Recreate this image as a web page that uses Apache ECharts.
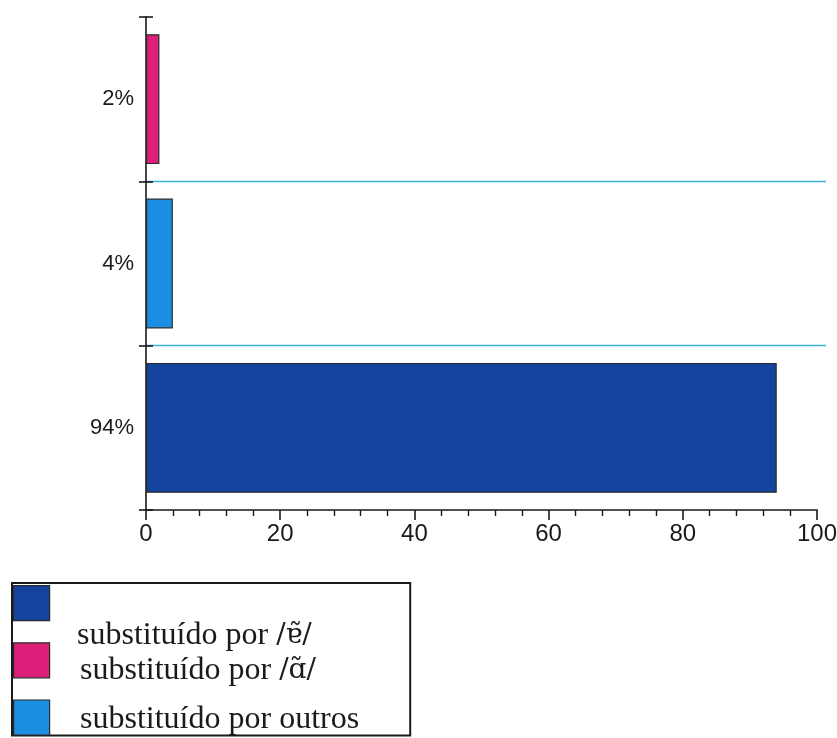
<!DOCTYPE html>
<html>
<head>
<meta charset="utf-8">
<script src="https://cdn.jsdelivr.net/npm/echarts@6/dist/echarts.min.js"></script>
<style>
  html, body { margin: 0; padding: 0; background: #ffffff; }
  #chart { width: 837px; height: 738px; }
</style>
</head>
<body>
<div id="chart"></div>
<script>
// Categories, top to bottom
const categories = ['2%', '4%', '94%'];
// Share of each category (percent)
const shares = [2, 4, 94];
// Legend entries and colours
const seriesNames = ['substituído por /ɐ̃/', 'substituído por /ɑ̃/', 'substituído por outros'];
const seriesColors = ['#15449f', '#dc1f79', '#1a8fe2'];
// Category filled by each series
const seriesCategory = [2, 0, 1];
// Value-axis range
const xMin = 0, xMax = 100, xStep = 20;

const chart = echarts.init(document.getElementById('chart'), null, { renderer: 'canvas' });

const barSeries = seriesNames.map((name, i) => ({
  name: name,
  type: 'bar',
  stack: 'all',
  xAxisIndex: 0,
  yAxisIndex: 0,
  barCategoryGap: '21%',
  itemStyle: { color: seriesColors[i], borderColor: '#2a2a2a', borderWidth: 1.2 },
  emphasis: { disabled: true },
  data: categories.map((c, j) => (j === seriesCategory[i] ? shares[j] : null))
}));

// phonetic symbols go in a font with proper combining-mark support
const withIpa = (name) => name.replace(/(\/[^/]+\/)/, '{ipa|$1}');

const textLegend = (idx, left, top) => ({
  show: true,
  orient: 'vertical',
  left: left,
  top: top,
  padding: 0,
  itemWidth: 0,
  itemHeight: 36,
  itemGap: 0,
  icon: 'rect',
  itemStyle: { opacity: 0, borderWidth: 0 },
  selectedMode: false,
  data: [seriesNames[idx]],
  formatter: withIpa,
  textStyle: {
    fontFamily: 'Liberation Serif',
    fontSize: 32,
    color: '#1a1a1a',
    rich: {
      ipa: { fontFamily: 'DejaVu Serif', fontSize: 28, color: '#1a1a1a' }
    }
  }
});

const option = {
  backgroundColor: '#ffffff',
  animation: false,
  grid: [
    { left: 146, right: 20, top: 17, bottom: 228, outerBoundsMode: 'none' },
    { left: 146, right: 11, top: 17, bottom: 228, outerBoundsMode: 'none' }
  ],
  legend: [
    {
      // swatch column with the frame
      orient: 'vertical',
      left: 12,
      top: 583,
      padding: [2, 360, 0, 1],
      itemWidth: 36,
      itemHeight: 35,
      itemGap: 21,
      icon: 'rect',
      borderColor: '#1a1a1a',
      borderWidth: 2,
      selectedMode: false,
      data: seriesNames,
      formatter: () => '',
      itemStyle: { borderColor: '#2a2a2a', borderWidth: 1.2 },
      textStyle: { fontSize: 1 }
    },
    textLegend(0, 72, 618),
    textLegend(1, 75, 653),
    textLegend(2, 75, 702)
  ],
  xAxis: [
    {
      type: 'value',
      gridIndex: 0,
      min: xMin,
      max: xMax,
      interval: xStep,
      axisLine: { show: true, lineStyle: { color: '#1a1a1a', width: 1.6 } },
      axisTick: { show: true, length: 10, lineStyle: { color: '#1a1a1a', width: 1.6 } },
      minorTick: { show: true, splitNumber: 5, length: 6, lineStyle: { color: '#1a1a1a', width: 1.4 } },
      splitLine: { show: false },
      axisLabel: { margin: 12, fontFamily: 'Liberation Sans', fontSize: 24, color: '#1a1a1a' }
    },
    {
      type: 'value',
      gridIndex: 1,
      min: xMin,
      max: xMax,
      show: false
    }
  ],
  yAxis: [
    {
      type: 'category',
      gridIndex: 0,
      data: categories,
      inverse: true,
      axisLine: { show: true, lineStyle: { color: '#1a1a1a', width: 1.6 } },
      axisTick: { show: true, length: 7, alignWithLabel: false, lineStyle: { color: '#1a1a1a', width: 1.6 } },
      splitLine: { show: false },
      axisLabel: { margin: 12, fontFamily: 'Liberation Sans', fontSize: 22, color: '#1a1a1a' }
    },
    {
      // inner half of the crossing ticks
      type: 'category',
      gridIndex: 0,
      position: 'left',
      data: categories,
      inverse: true,
      axisLine: { show: false },
      axisTick: { show: true, inside: true, length: 7, lineStyle: { color: '#1a1a1a', width: 1.6 } },
      axisLabel: { show: false },
      splitLine: { show: false }
    },
    {
      // cyan separators between categories
      type: 'category',
      gridIndex: 1,
      data: categories,
      inverse: true,
      axisLine: { show: false },
      axisTick: { show: false },
      axisLabel: { show: false },
      splitLine: {
        show: true,
        showMinLine: false,
        showMaxLine: false,
        lineStyle: { color: '#3fb3dc', width: 1.4 }
      }
    }
  ],
  series: barSeries
};

chart.setOption(option);
</script>
</body>
</html>
